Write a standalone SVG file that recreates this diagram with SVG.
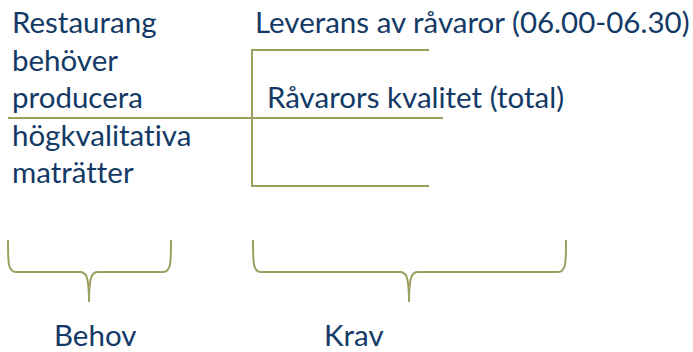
<svg xmlns="http://www.w3.org/2000/svg" width="693" height="352" viewBox="0 0 693 352">
  <style>
    .t { font-family: Lato, "Liberation Sans", sans-serif; font-size: 29.5px; fill: #133A66; font-variant-ligatures: none; }
    .ln { fill: none; stroke: #9C9F5E; stroke-width: 2; }
  </style>
  <rect width="693" height="352" fill="#ffffff"/>

  <!-- tree lines and braces -->
  <g id="connectors">
    <line class="ln" x1="8" y1="118" x2="443" y2="118"/>
    <polyline class="ln" points="429,50 252,50 252,186 429,186"/>
    <path class="ln" d="M8,240 C8,263 8,272 16,272 L80,272 C86,272 89,276 89,302 C89,276 92,272 98,272 L163,272 C171,272 171,263 171,240"/>
    <path class="ln" d="M253,240 C253,263 253,272 261,272 L400,272 C406,272 409,276 409,302 C409,276 412,272 418,272 L558,272 C566,272 566,263 566,240"/>
  </g>

  <g id="need">
    <text class="t" x="12" y="33">Restaurang</text>
    <text class="t" x="12" y="71">behöver</text>
    <text class="t" x="12" y="108">producera</text>
    <text class="t" x="12" y="146">högkvalitativa</text>
    <text class="t" x="12" y="183">maträtter</text>
  </g>

  <g id="delivery">
    <text class="t" x="255" y="33">Leverans av råvaror (06.00-06.30)</text>
  </g>

  <g id="quality">
    <text class="t" x="267" y="108">Råvarors kvalitet (total)</text>
  </g>

  <g id="label-behov">
    <text class="t" x="54" y="346">Behov</text>
  </g>

  <g id="label-krav">
    <text class="t" x="324" y="346">Krav</text>
  </g>
</svg>
